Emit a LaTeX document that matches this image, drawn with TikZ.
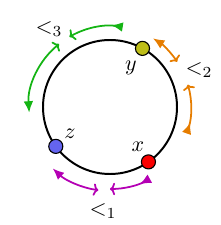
\documentclass[tikz,border=0pt]{standalone}
\usetikzlibrary{arrows.meta,calc}
\definecolor{cgreen}{RGB}{20,180,20}
\definecolor{corange}{RGB}{230,125,0}
\definecolor{cpurple}{RGB}{180,0,180}
\definecolor{cyel}{RGB}{190,190,25}
\definecolor{cblue}{RGB}{100,100,240}
\definecolor{cred}{RGB}{250,0,0}
\tikzset{
  rel/.style={line width=0.8pt},
  dot/.style={circle,draw=black,line width=0.5pt,minimum size=6.4pt,inner sep=0pt},
  hk/.tip={To[width=5.6pt,length=2.3pt]},
  lt/.tip={Latex[length=5.2pt,width=4.4pt]},
  rlt/.tip={Latex[length=5.2pt,width=4.4pt,reversed]},
}
\begin{document}
\begin{tikzpicture}[x=0.4545pt,y=0.4545pt]
\useasboundingbox (0,0) rectangle (220,225);
\coordinate (C) at (110,118);
\draw[line width=0.9pt] (C) circle[radius=67];
% points
\node[dot,fill=cyel] (y) at ($(C)+(61:67)$) {};
\node[dot,fill=cred] (x) at ($(C)+(-55:67)$) {};
\node[dot,fill=cblue] (z) at ($(C)+(216:67)$) {};
\node (ly) at (131,157) {$y$};
\node (lx) at (138,78) {$x$};
\node (lz) at (70,91) {$z$};
% relation arcs
\draw[rel,cpurple,{lt}-{hk}] ($(C)+(227:84)$) arc[start angle=227,end angle=262,radius=84];
\draw[rel,cpurple,{hk}-{rlt}] ($(C)+(270:82)$) arc[start angle=270,end angle=299,radius=82];
\draw[rel,corange,{rlt}-{hk}] ($(C)+(-19:81)$) arc[start angle=-19,end angle=16,radius=81];
\draw[rel,corange,{hk}-{lt}] ($(C)+(34:81)$) arc[start angle=34,end angle=58,radius=81];
\draw[rel,cgreen,{rlt}-{hk}] ($(C)+(81:81)$) arc[start angle=81,end angle=120,radius=81];
\draw[rel,cgreen,{hk}-{lt}] ($(C)+(129:81)$) arc[start angle=129,end angle=184,radius=81];
% labels
\node (l1) at (103,14) {$<_1$};
\node (l2) at (199,155) {$<_2$};
\node (l3) at (49,196) {$<_3$};
\end{tikzpicture}
\end{document}
